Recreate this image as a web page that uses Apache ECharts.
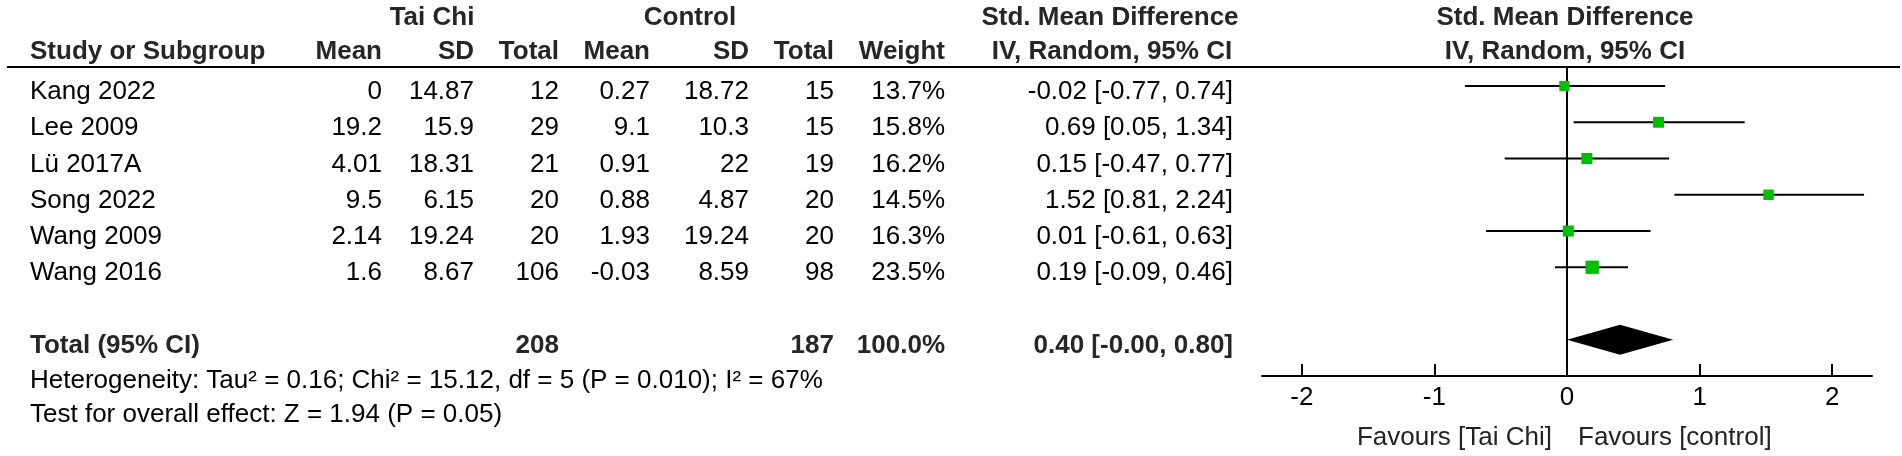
<!DOCTYPE html>
<html><head><meta charset="utf-8">
<script src="https://cdn.jsdelivr.net/npm/echarts@6/dist/echarts.min.js"></script>
<style>html,body{margin:0;padding:0;background:#fff}#c{width:1902px;height:456px}</style>
</head><body><div id="c"></div>
<script>
// ---- data ----
const studies = ['Kang 2022', 'Lee 2009', 'Lü 2017A', 'Song 2022', 'Wang 2009', 'Wang 2016'];
const tcMean = ['0', '19.2', '4.01', '9.5', '2.14', '1.6'];
const tcSD = ['14.87', '15.9', '18.31', '6.15', '19.24', '8.67'];
const tcN = [12, 29, 21, 20, 20, 106];
const ctMean = ['0.27', '9.1', '0.91', '0.88', '1.93', '-0.03'];
const ctSD = ['18.72', '10.3', '22', '4.87', '19.24', '8.59'];
const ctN = [15, 15, 19, 20, 20, 98];
const weight = [13.7, 15.8, 16.2, 14.5, 16.3, 23.5];
const smd = [-0.02, 0.69, 0.15, 1.52, 0.01, 0.19];
const ciLow = [-0.77, 0.05, -0.47, 0.81, -0.61, -0.09];
const ciHigh = [0.74, 1.34, 0.77, 2.24, 0.63, 0.46];
const totalTC = 208;
const totalCT = 187;
const totalWeight = '100.0%';
const pooled = [0.40, 0.00, 0.80];           // estimate, low, high
const pooledText = '0.40 [-0.00, 0.80]';
const xTicks = [-2, -1, 0, 1, 2];
const heterogeneity = 'Heterogeneity: Tau² = 0.16; Chi² = 15.12, df = 5 (P = 0.010); I² = 67%';
const overall = 'Test for overall effect: Z = 1.94 (P = 0.05)';
const favLeft = 'Favours [Tai Chi]';
const favRight = 'Favours [control]';

// ---- layout ----
const FONT = '"Liberation Sans", Arial, Helvetica, sans-serif';
const FS = 26;
const BOLD_C = '#262626';
const REG_C = '#000';
const nameX = 30;
const colX = {tcMean: 382, tcSD: 474, tcN: 559, ctMean: 650, ctSD: 749, ctN: 834, weight: 945, ci: 1233};
const TEXT_DY = 6;
const totalRow = 7;

const chart = echarts.init(document.getElementById('c'));

function txt(x, y, s, align, bold, color) {
  return {type: 'text', x: x, y: y, style: {text: s, x: 0, y: 0, align: align, verticalAlign: 'middle',
    font: (bold ? 'bold ' : '') + FS + 'px ' + FONT, fill: color || (bold ? BOLD_C : REG_C)}};
}

const studyData = studies.map((s, i) => [smd[i], i, ciLow[i], ciHigh[i], weight[i]]);

const option = {
  animation: false,
  grid: {left: 1262, width: 610, top: 67, height: 309},
  xAxis: {
    type: 'value', min: -2.3, max: 2.3,
    axisLine: {show: true, onZero: false, lineStyle: {color: '#000', width: 2}},
    axisTick: {show: true, inside: true, length: 12, customValues: xTicks, lineStyle: {color: '#000', width: 2}},
    axisLabel: {customValues: xTicks, fontSize: FS, fontFamily: FONT, color: '#000', margin: 9},
    splitLine: {show: false}
  },
  yAxis: {type: 'value', inverse: true, min: -0.525, max: 8, show: false},
  series: [
    { // zero line
      type: 'line', data: [[0, -0.525], [0, 8]], symbol: 'none', silent: true,
      lineStyle: {color: '#000', width: 2}, z: 1
    },
    { // CI whiskers and squares
      type: 'custom', data: studyData, z: 3,
      renderItem: function (params, api) {
        const r = api.value(1);
        const p1 = api.coord([api.value(2), r]);
        const p2 = api.coord([api.value(3), r]);
        const c = api.coord([api.value(0), r]);
        const sz = 2.75 * Math.sqrt(api.value(4));
        return {type: 'group', children: [
          {type: 'line', shape: {x1: p1[0], y1: p1[1], x2: p2[0], y2: p2[1]}, style: {stroke: '#000', lineWidth: 2}},
          {type: 'rect', shape: {x: c[0] - sz / 2, y: c[1] - sz / 2, width: sz, height: sz}, style: {fill: '#00c000'}}
        ]};
      }
    },
    { // diamond
      type: 'custom', data: [[pooled[0], totalRow, pooled[1], pooled[2]]], z: 3,
      renderItem: function (params, api) {
        const r = api.value(1);
        const L = api.coord([api.value(2), r]);
        const R = api.coord([api.value(3), r]);
        const C = api.coord([api.value(0), r]);
        const h = 15;
        return {type: 'polygon', shape: {points: [[L[0], L[1]], [C[0], C[1] - h], [R[0], R[1]], [C[0], C[1] + h]]},
          style: {fill: '#000'}};
      }
    },
    { // study table text
      type: 'custom', data: studies.map((s, i) => [0, i]), clip: false, silent: true, z: 5,
      renderItem: function (params, api) {
        const i = params.dataIndex;
        const y = api.coord([0, api.value(1)])[1] + TEXT_DY;
        return {type: 'group', children: [
          txt(nameX, y, studies[i], 'left'),
          txt(colX.tcMean, y, tcMean[i], 'right'),
          txt(colX.tcSD, y, tcSD[i], 'right'),
          txt(colX.tcN, y, String(tcN[i]), 'right'),
          txt(colX.ctMean, y, ctMean[i], 'right'),
          txt(colX.ctSD, y, ctSD[i], 'right'),
          txt(colX.ctN, y, String(ctN[i]), 'right'),
          txt(colX.weight, y, weight[i].toFixed(1) + '%', 'right'),
          txt(colX.ci, y, smd[i].toFixed(2) + ' [' + ciLow[i].toFixed(2) + ', ' + ciHigh[i].toFixed(2) + ']', 'right')
        ]};
      }
    },
    { // total row text
      type: 'custom', data: [[0, totalRow]], clip: false, silent: true, z: 5,
      renderItem: function (params, api) {
        const y = api.coord([0, api.value(1)])[1] + TEXT_DY;
        return {type: 'group', children: [
          txt(nameX, y, 'Total (95% CI)', 'left', true),
          txt(colX.tcN, y, String(totalTC), 'right', true),
          txt(colX.ctN, y, String(totalCT), 'right', true),
          txt(colX.weight, y, totalWeight, 'right', true),
          txt(colX.ci, y, pooledText, 'right', true)
        ]};
      }
    }
  ],
  graphic: [
    txt(432, 18, 'Tai Chi', 'center', true),
    txt(690, 18, 'Control', 'center', true),
    txt(1110, 18, 'Std. Mean Difference', 'center', true),
    txt(1565, 18, 'Std. Mean Difference', 'center', true),
    txt(nameX, 52, 'Study or Subgroup', 'left', true),
    txt(colX.tcMean, 52, 'Mean', 'right', true),
    txt(colX.tcSD, 52, 'SD', 'right', true),
    txt(colX.tcN, 52, 'Total', 'right', true),
    txt(colX.ctMean, 52, 'Mean', 'right', true),
    txt(colX.ctSD, 52, 'SD', 'right', true),
    txt(colX.ctN, 52, 'Total', 'right', true),
    txt(colX.weight, 52, 'Weight', 'right', true),
    txt(1112, 52, 'IV, Random, 95% CI', 'center', true),
    txt(1565, 52, 'IV, Random, 95% CI', 'center', true),
    {type: 'line', shape: {x1: 7, y1: 67, x2: 1900, y2: 67}, style: {stroke: '#000', lineWidth: 2}},
    txt(nameX, 381, heterogeneity, 'left'),
    txt(nameX, 415, overall, 'left'),
    txt(1552, 438, favLeft, 'right', false, '#222'),
    txt(1578, 438, favRight, 'left', false, '#222')
  ]
};
chart.setOption(option);
</script></body></html>
